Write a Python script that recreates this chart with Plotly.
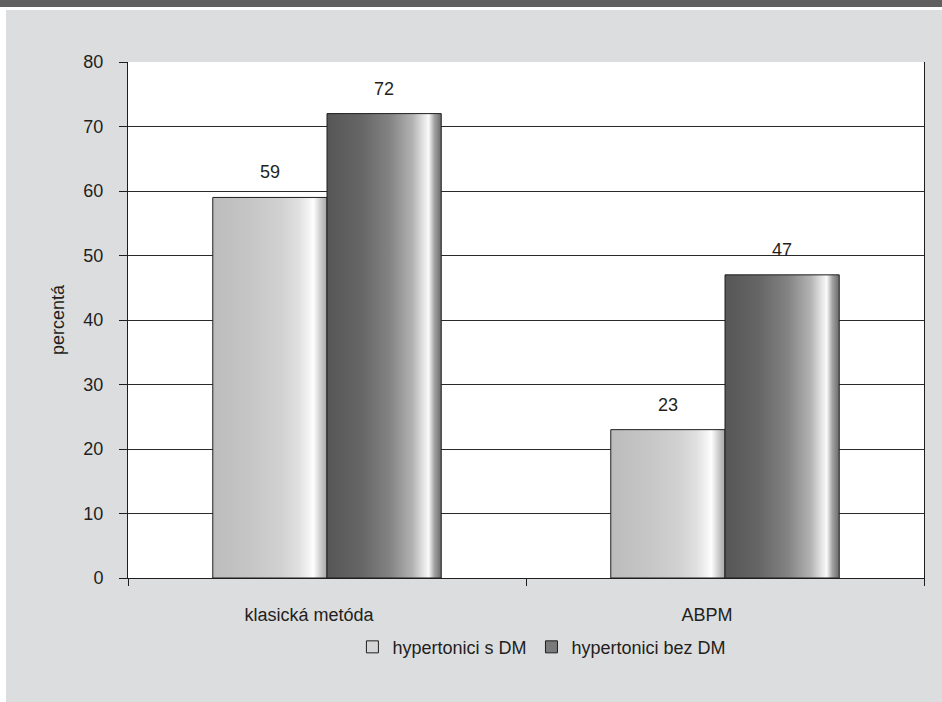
import plotly.graph_objects as go

# Data
categories = ["klasická metóda", "ABPM"]
series_names = ["hypertonici s DM", "hypertonici bez DM"]
with_dm = [59, 23]
without_dm = [72, 47]
y_ticks = [0, 10, 20, 30, 40, 50, 60, 70, 80]

# Horizontal shading for each series (cylinder-like sheen)
light_scale = [
    [0.0, "#bcbcbc"], [0.3, "#c5c5c5"], [0.6, "#d1d1d1"], [0.75, "#e0e0e0"],
    [0.84, "#f3f3f3"], [0.88, "#ffffff"], [0.94, "#cfcfcf"], [1.0, "#a6a6a6"],
]
dark_scale = [
    [0.0, "#565656"], [0.3, "#666666"], [0.55, "#838383"], [0.75, "#b3b3b3"],
    [0.85, "#e6e6e6"], [0.89, "#fafafa"], [0.94, "#a2a2a2"], [1.0, "#6a6a6a"],
]
legend_colors = ["#d6d6d6", "#7a7a7a"]

BAR_W = 0.287  # bar width in category units
FONT = "Liberation Sans, Arial, sans-serif"
TEXT = "#231f20"
FS = 18

fig = go.Figure()

series = [
    (series_names[0], with_dm, light_scale, -BAR_W),
    (series_names[1], without_dm, dark_scale, 0.0),
]

for name, values, scale, offset in series:
    for i, v in enumerate(values):
        x0 = i + offset
        x1 = x0 + BAR_W
        fig.add_trace(go.Scatter(
            x=[x0, x1, x1, x0, x0],
            y=[0, 0, v, v, 0],
            mode="lines",
            fill="toself",
            fillgradient=dict(type="horizontal", colorscale=scale),
            line=dict(color="#1e1e1e", width=1),
            name=name,
            showlegend=False,
            hoverinfo="skip",
        ))
        fig.add_annotation(
            x=(x0 + x1) / 2, y=v, text=str(v), showarrow=False,
            yanchor="bottom", yshift=13,
            font=dict(family=FONT, size=FS, color=TEXT),
        )

# Legend entries as square swatches
for name, color in zip(series_names, legend_colors):
    fig.add_trace(go.Bar(
        x=[None], y=[None], name=name,
        marker=dict(color=color, line=dict(color="#1e1e1e", width=1)),
        showlegend=True, hoverinfo="skip",
    ))

# Page frame: dark header band, thin white separators
frame = [
    dict(x0=-0.2, x1=1.1, y0=1.1066, y1=1.125, fill="#606060"),
    dict(x0=-0.2, x1=1.1, y0=1.1008, y1=1.1066, fill="#ffffff"),
    dict(x0=-0.2, x1=-0.1533, y0=-0.25, y1=1.1066, fill="#ffffff"),
]
for s in frame:
    fig.add_shape(type="rect", xref="paper", yref="paper",
                  x0=s["x0"], x1=s["x1"], y0=s["y0"], y1=s["y1"],
                  fillcolor=s["fill"], line=dict(width=0), layer="above")

fig.update_layout(
    width=942, height=702,
    margin=dict(l=128, r=18, t=62, b=124),
    paper_bgcolor="#dcdddf",
    plot_bgcolor="#ffffff",
    font=dict(family=FONT, size=FS, color=TEXT),
    showlegend=True,
    legend=dict(
        orientation="h", x=0.52, xanchor="center", y=-0.134, yanchor="middle",
        font=dict(family=FONT, size=FS, color=TEXT),
        bgcolor="rgba(0,0,0,0)", tracegroupgap=0, itemwidth=30,
    ),
    xaxis=dict(
        range=[-0.5, 1.5],
        tickmode="array", tickvals=list(range(len(categories))), ticktext=categories,
        ticks="", showgrid=False, zeroline=False,
        showline=True, linecolor="#1e1e1e", linewidth=1,
        ticklabelshift=-18, ticklabelstandoff=20,
        tickfont=dict(family=FONT, size=FS, color=TEXT),
        minor=dict(tickmode="array", tickvals=[-0.5, 0.5, 1.5], ticks="outside",
                   ticklen=7, tickcolor="#1e1e1e", tickwidth=1, showgrid=False),
        fixedrange=True,
    ),
    yaxis=dict(
        range=[0, 80], tickmode="array", tickvals=y_ticks,
        ticks="outside", ticklen=8, tickcolor="#1e1e1e", tickwidth=1,
        showgrid=True, gridcolor="#2a2a2a", gridwidth=1, zeroline=False,
        showline=True, linecolor="#1e1e1e", linewidth=1, mirror=True,
        ticklabelstandoff=12,
        tickfont=dict(family=FONT, size=FS, color=TEXT),
        title=dict(text="percentá", standoff=14,
                   font=dict(family=FONT, size=FS, color=TEXT)),
        fixedrange=True,
    ),
)

fig.write_html("out.html")
